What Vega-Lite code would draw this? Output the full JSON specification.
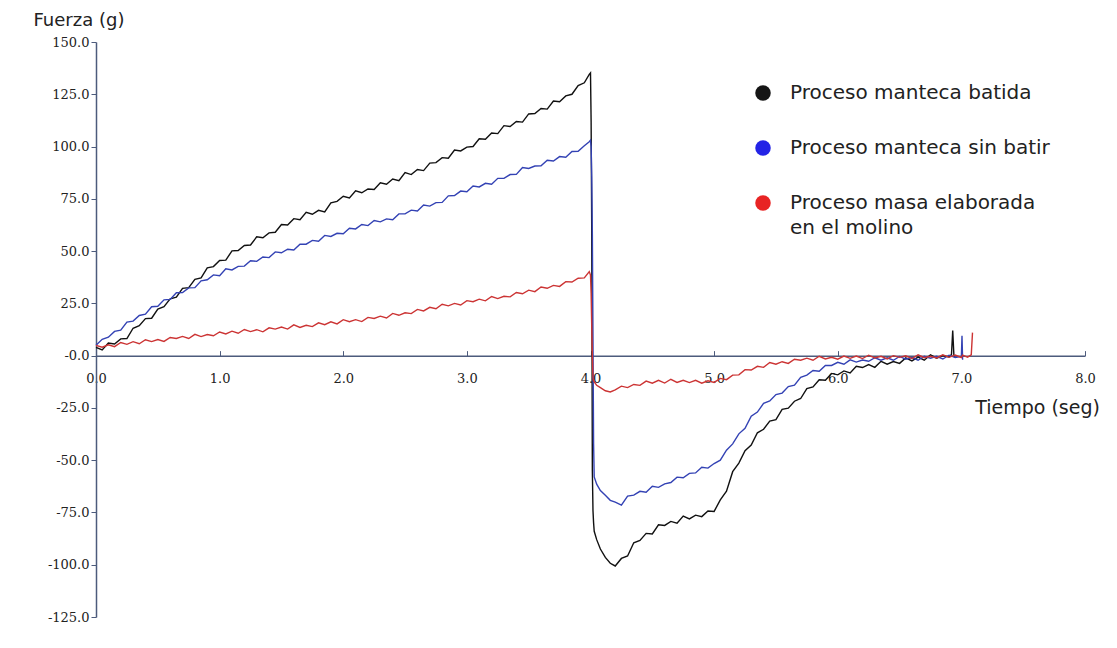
{
  "$schema": "https://vega.github.io/schema/vega-lite/v6.json",
  "width": 989,
  "height": 575,
  "autosize": "none",
  "padding": {"left": 96, "top": 42, "right": 32, "bottom": 31},
  "background": "white",
  "config": {"view": {"stroke": null}},
  "data": {
    "values": [
      {"t": 0.00, "batida": 4.0, "sin_batir": 5.0, "molino": 4.9},
      {"t": 0.05, "batida": 2.7, "sin_batir": 7.8, "molino": 4.0},
      {"t": 0.10, "batida": 6.0, "sin_batir": 8.8, "molino": 5.2},
      {"t": 0.15, "batida": 5.6, "sin_batir": 11.6, "molino": 4.3},
      {"t": 0.20, "batida": 8.0, "sin_batir": 12.2, "molino": 6.3},
      {"t": 0.25, "batida": 8.2, "sin_batir": 16.0, "molino": 5.4},
      {"t": 0.30, "batida": 13.1, "sin_batir": 16.5, "molino": 6.7},
      {"t": 0.35, "batida": 14.3, "sin_batir": 19.2, "molino": 5.7},
      {"t": 0.40, "batida": 17.7, "sin_batir": 19.8, "molino": 7.6},
      {"t": 0.45, "batida": 17.9, "sin_batir": 23.4, "molino": 6.7},
      {"t": 0.50, "batida": 22.3, "sin_batir": 23.6, "molino": 7.7},
      {"t": 0.55, "batida": 23.4, "sin_batir": 26.7, "molino": 6.8},
      {"t": 0.60, "batida": 27.2, "sin_batir": 26.9, "molino": 8.7},
      {"t": 0.65, "batida": 28.0, "sin_batir": 30.1, "molino": 8.2},
      {"t": 0.70, "batida": 32.2, "sin_batir": 30.2, "molino": 9.2},
      {"t": 0.75, "batida": 32.5, "sin_batir": 32.4, "molino": 8.2},
      {"t": 0.80, "batida": 36.5, "sin_batir": 32.5, "molino": 10.2},
      {"t": 0.85, "batida": 37.2, "sin_batir": 35.8, "molino": 9.1},
      {"t": 0.90, "batida": 42.0, "sin_batir": 36.3, "molino": 10.1},
      {"t": 0.95, "batida": 42.6, "sin_batir": 38.6, "molino": 9.5},
      {"t": 1.00, "batida": 45.5, "sin_batir": 38.2, "molino": 11.3},
      {"t": 1.05, "batida": 45.7, "sin_batir": 41.5, "molino": 10.4},
      {"t": 1.10, "batida": 50.1, "sin_batir": 41.0, "molino": 11.7},
      {"t": 1.15, "batida": 50.3, "sin_batir": 42.7, "molino": 10.7},
      {"t": 1.20, "batida": 52.7, "sin_batir": 42.8, "molino": 12.5},
      {"t": 1.25, "batida": 52.9, "sin_batir": 45.4, "molino": 11.5},
      {"t": 1.30, "batida": 56.8, "sin_batir": 45.1, "molino": 12.4},
      {"t": 1.35, "batida": 56.4, "sin_batir": 47.2, "molino": 11.4},
      {"t": 1.40, "batida": 58.7, "sin_batir": 46.9, "molino": 13.3},
      {"t": 1.45, "batida": 59.0, "sin_batir": 49.6, "molino": 12.7},
      {"t": 1.50, "batida": 62.7, "sin_batir": 49.2, "molino": 13.7},
      {"t": 1.55, "batida": 62.5, "sin_batir": 50.9, "molino": 12.7},
      {"t": 1.60, "batida": 65.5, "sin_batir": 50.5, "molino": 14.7},
      {"t": 1.65, "batida": 65.0, "sin_batir": 53.3, "molino": 13.5},
      {"t": 1.70, "batida": 68.5, "sin_batir": 53.3, "molino": 14.5},
      {"t": 1.75, "batida": 67.6, "sin_batir": 55.1, "molino": 13.9},
      {"t": 1.80, "batida": 69.5, "sin_batir": 54.7, "molino": 15.7},
      {"t": 1.85, "batida": 68.7, "sin_batir": 57.5, "molino": 14.8},
      {"t": 1.90, "batida": 73.1, "sin_batir": 57.0, "molino": 16.2},
      {"t": 1.95, "batida": 73.8, "sin_batir": 58.5, "molino": 15.2},
      {"t": 2.00, "batida": 76.2, "sin_batir": 58.3, "molino": 17.2},
      {"t": 2.05, "batida": 75.4, "sin_batir": 60.9, "molino": 16.2},
      {"t": 2.10, "batida": 78.8, "sin_batir": 60.6, "molino": 17.2},
      {"t": 2.15, "batida": 77.9, "sin_batir": 62.7, "molino": 16.3},
      {"t": 2.20, "batida": 79.7, "sin_batir": 62.2, "molino": 18.3},
      {"t": 2.25, "batida": 79.5, "sin_batir": 64.6, "molino": 17.8},
      {"t": 2.30, "batida": 82.7, "sin_batir": 64.0, "molino": 18.9},
      {"t": 2.35, "batida": 82.0, "sin_batir": 65.4, "molino": 18.0},
      {"t": 2.40, "batida": 84.5, "sin_batir": 65.0, "molino": 20.2},
      {"t": 2.45, "batida": 83.7, "sin_batir": 67.8, "molino": 19.3},
      {"t": 2.50, "batida": 87.5, "sin_batir": 67.8, "molino": 20.5},
      {"t": 2.55, "batida": 86.6, "sin_batir": 69.6, "molino": 20.1},
      {"t": 2.60, "batida": 89.0, "sin_batir": 69.2, "molino": 22.1},
      {"t": 2.65, "batida": 88.5, "sin_batir": 72.0, "molino": 21.4},
      {"t": 2.70, "batida": 92.1, "sin_batir": 71.5, "molino": 23.1},
      {"t": 2.75, "batida": 92.3, "sin_batir": 73.2, "molino": 22.4},
      {"t": 2.80, "batida": 94.7, "sin_batir": 73.3, "molino": 24.6},
      {"t": 2.85, "batida": 94.4, "sin_batir": 76.4, "molino": 23.8},
      {"t": 2.90, "batida": 98.3, "sin_batir": 76.6, "molino": 25.0},
      {"t": 2.95, "batida": 97.9, "sin_batir": 78.7, "molino": 24.2},
      {"t": 3.00, "batida": 99.7, "sin_batir": 78.4, "molino": 26.3},
      {"t": 3.05, "batida": 100.0, "sin_batir": 81.1, "molino": 25.8},
      {"t": 3.10, "batida": 103.7, "sin_batir": 80.7, "molino": 27.0},
      {"t": 3.15, "batida": 103.5, "sin_batir": 82.4, "molino": 26.2},
      {"t": 3.20, "batida": 106.5, "sin_batir": 82.0, "molino": 28.3},
      {"t": 3.25, "batida": 106.2, "sin_batir": 84.8, "molino": 27.3},
      {"t": 3.30, "batida": 110.0, "sin_batir": 84.8, "molino": 28.4},
      {"t": 3.35, "batida": 109.6, "sin_batir": 86.6, "molino": 28.1},
      {"t": 3.40, "batida": 112.0, "sin_batir": 86.7, "molino": 30.2},
      {"t": 3.45, "batida": 111.7, "sin_batir": 90.0, "molino": 29.6},
      {"t": 3.50, "batida": 115.6, "sin_batir": 89.5, "molino": 31.3},
      {"t": 3.55, "batida": 115.8, "sin_batir": 90.7, "molino": 30.6},
      {"t": 3.60, "batida": 118.2, "sin_batir": 90.8, "molino": 32.8},
      {"t": 3.65, "batida": 117.9, "sin_batir": 93.4, "molino": 32.2},
      {"t": 3.70, "batida": 121.8, "sin_batir": 93.1, "molino": 33.6},
      {"t": 3.75, "batida": 121.4, "sin_batir": 95.2, "molino": 33.1},
      {"t": 3.80, "batida": 124.2, "sin_batir": 94.9, "molino": 35.4},
      {"t": 3.85, "batida": 125.0, "sin_batir": 97.6, "molino": 35.2},
      {"t": 3.90, "batida": 129.2, "sin_batir": 97.7, "molino": 37.0},
      {"t": 3.95, "batida": 130.5, "sin_batir": 100.4, "molino": 37.2},
      {"t": 3.99, "batida": 134.5, "sin_batir": 102.3, "molino": 40.2},
      {"t": 4.000, "batida": 135.2, "sin_batir": 103.0, "molino": 38.5},
      {"t": 4.005, "batida": 112.0, "sin_batir": 100.0, "molino": 30.0},
      {"t": 4.010, "batida": 60.0, "sin_batir": 86.0, "molino": 14.0},
      {"t": 4.015, "batida": -55.0, "sin_batir": 58.0, "molino": 0.0},
      {"t": 4.020, "batida": -74.0, "sin_batir": 8.0, "molino": -10.5},
      {"t": 4.025, "batida": -80.0, "sin_batir": -42.0, "molino": -12.0},
      {"t": 4.030, "batida": -84.0, "sin_batir": -58.0, "molino": -12.5},
      {"t": 4.05, "batida": -88.0, "sin_batir": -61.5, "molino": -14.2},
      {"t": 4.08, "batida": -92.5, "sin_batir": -64.5, "molino": -15.3},
      {"t": 4.12, "batida": -96.5, "sin_batir": -66.8, "molino": -16.8},
      {"t": 4.16, "batida": -99.3, "sin_batir": -69.2, "molino": -17.4},
      {"t": 4.20, "batida": -100.6, "sin_batir": -70.1, "molino": -16.4},
      {"t": 4.25, "batida": -97.0, "sin_batir": -71.5, "molino": -14.6},
      {"t": 4.30, "batida": -95.8, "sin_batir": -67.2, "molino": -15.3},
      {"t": 4.35, "batida": -89.5, "sin_batir": -66.7, "molino": -13.8},
      {"t": 4.40, "batida": -88.4, "sin_batir": -64.9, "molino": -14.2},
      {"t": 4.45, "batida": -85.0, "sin_batir": -65.3, "molino": -12.2},
      {"t": 4.50, "batida": -85.3, "sin_batir": -62.5, "molino": -13.2},
      {"t": 4.55, "batida": -80.9, "sin_batir": -63.0, "molino": -11.8},
      {"t": 4.60, "batida": -81.2, "sin_batir": -61.3, "molino": -13.1},
      {"t": 4.65, "batida": -79.3, "sin_batir": -60.7, "molino": -11.3},
      {"t": 4.70, "batida": -80.1, "sin_batir": -58.1, "molino": -12.8},
      {"t": 4.75, "batida": -76.7, "sin_batir": -58.4, "molino": -11.8},
      {"t": 4.80, "batida": -78.1, "sin_batir": -56.3, "molino": -12.9},
      {"t": 4.85, "batida": -76.3, "sin_batir": -56.1, "molino": -11.8},
      {"t": 4.90, "batida": -77.0, "sin_batir": -53.4, "molino": -13.2},
      {"t": 4.95, "batida": -74.3, "sin_batir": -53.8, "molino": -12.0},
      {"t": 5.00, "batida": -74.5, "sin_batir": -51.6, "molino": -12.8},
      {"t": 5.05, "batida": -69.0, "sin_batir": -50.0, "molino": -10.9},
      {"t": 5.10, "batida": -64.8, "sin_batir": -45.2, "molino": -11.5},
      {"t": 5.15, "batida": -55.5, "sin_batir": -42.2, "molino": -9.3},
      {"t": 5.20, "batida": -51.4, "sin_batir": -37.4, "molino": -9.2},
      {"t": 5.25, "batida": -45.5, "sin_batir": -34.8, "molino": -6.7},
      {"t": 5.30, "batida": -42.8, "sin_batir": -29.0, "molino": -6.9},
      {"t": 5.35, "batida": -36.9, "sin_batir": -27.0, "molino": -5.1},
      {"t": 5.40, "batida": -35.2, "sin_batir": -22.8, "molino": -5.6},
      {"t": 5.45, "batida": -31.3, "sin_batir": -21.7, "molino": -3.3},
      {"t": 5.50, "batida": -30.6, "sin_batir": -18.6, "molino": -4.1},
      {"t": 5.55, "batida": -25.7, "sin_batir": -17.9, "molino": -2.9},
      {"t": 5.60, "batida": -25.1, "sin_batir": -14.8, "molino": -3.7},
      {"t": 5.65, "batida": -21.8, "sin_batir": -14.1, "molino": -1.7},
      {"t": 5.70, "batida": -20.5, "sin_batir": -10.4, "molino": -2.2},
      {"t": 5.75, "batida": -15.8, "sin_batir": -9.3, "molino": -1.2},
      {"t": 5.80, "batida": -15.0, "sin_batir": -7.1, "molino": -2.2},
      {"t": 5.85, "batida": -11.5, "sin_batir": -7.5, "molino": -0.3},
      {"t": 5.90, "batida": -11.8, "sin_batir": -4.7, "molino": -1.6},
      {"t": 5.95, "batida": -8.5, "sin_batir": -4.7, "molino": -0.8},
      {"t": 6.00, "batida": -9.2, "sin_batir": -3.2, "molino": -1.7},
      {"t": 6.05, "batida": -7.3, "sin_batir": -4.1, "molino": -0.2},
      {"t": 6.10, "batida": -8.3, "sin_batir": -2.0, "molino": -1.3},
      {"t": 6.15, "batida": -5.1, "sin_batir": -3.1, "molino": -0.2},
      {"t": 6.20, "batida": -5.7, "sin_batir": -2.1, "molino": -1.4},
      {"t": 6.25, "batida": -4.3, "sin_batir": -2.7, "molino": 0.2},
      {"t": 6.30, "batida": -5.6, "sin_batir": -1.0, "molino": -1.1},
      {"t": 6.35, "batida": -2.7, "sin_batir": -2.2, "molino": -0.3},
      {"t": 6.40, "batida": -4.1, "sin_batir": -1.0, "molino": -1.6},
      {"t": 6.45, "batida": -2.8, "sin_batir": -2.2, "molino": 0.0},
      {"t": 6.50, "batida": -3.7, "sin_batir": -0.4, "molino": -0.8},
      {"t": 6.55, "batida": -1.1, "sin_batir": -1.7, "molino": -0.1},
      {"t": 6.60, "batida": -2.5, "sin_batir": -0.9, "molino": -1.4},
      {"t": 6.65, "batida": -0.7, "sin_batir": -2.2, "molino": 0.4},
      {"t": 6.70, "batida": -2.2, "sin_batir": -0.3, "molino": -1.0},
      {"t": 6.75, "batida": 0.4, "sin_batir": -1.2, "molino": -0.3},
      {"t": 6.80, "batida": -1.2, "sin_batir": -0.3, "molino": -1.1},
      {"t": 6.85, "batida": 0.0, "sin_batir": -1.6, "molino": 0.4},
      {"t": 6.90, "batida": -0.6, "sin_batir": 0.2, "molino": -0.8},
      {"t": 6.92, "batida": 0.6, "sin_batir": null, "molino": null},
      {"t": 6.93, "batida": 12.0, "sin_batir": null, "molino": null},
      {"t": 6.94, "batida": -0.5, "sin_batir": null, "molino": null},
      {"t": 6.95, "batida": null, "sin_batir": -0.9, "molino": 0.3},
      {"t": 7.00, "batida": null, "sin_batir": -0.4, "molino": -0.9},
      {"t": 7.005, "batida": null, "sin_batir": 9.5, "molino": null},
      {"t": 7.01, "batida": null, "sin_batir": -2.0, "molino": 0.2},
      {"t": 7.05, "batida": null, "sin_batir": null, "molino": -0.7},
      {"t": 7.08, "batida": null, "sin_batir": null, "molino": 0.4},
      {"t": 7.09, "batida": null, "sin_batir": null, "molino": 11.0}
    ]
  },
  "transform": [
    {"fold": ["batida", "sin_batir", "molino"], "as": ["proceso", "fuerza"]},
    {"filter": "isValid(datum.fuerza)"}
  ],
  "mark": {"type": "line", "strokeWidth": 1.4},
  "encoding": {
    "x": {
      "field": "t",
      "type": "quantitative",
      "scale": {"domain": [0, 8], "nice": false, "zero": false},
      "axis": {
        "values": [0, 1, 2, 3, 4, 5, 6, 7, 8],
        "format": ".1f",
        "offset": -261.36,
        "grid": false,
        "tickSize": -5,
        "labelPadding": 22,
        "labelFlush": false,
        "domainColor": "#4d5b7c",
        "domainWidth": 1.5,
        "tickColor": "#4d5b7c",
        "labelFont": "DejaVu Serif",
        "labelFontSize": 13,
        "labelColor": "#222222",
        "title": "Tiempo (seg)",
        "titleFont": "DejaVu Sans",
        "titleFontSize": 19,
        "titleFontWeight": "normal",
        "titleColor": "#222222",
        "titleAlign": "center",
        "titleBaseline": "middle",
        "titleX": 941,
        "titleY": 52
      }
    },
    "y": {
      "field": "fuerza",
      "type": "quantitative",
      "scale": {"domain": [-125, 150], "nice": false, "zero": false},
      "axis": {
        "values": [-125, -100, -75, -50, -25, 0, 25, 50, 75, 100, 125, 150],
        "labelExpr": "(datum.value <= 0 ? '-' : '') + format(abs(datum.value), '.1f')",
        "grid": false,
        "tickSize": 5,
        "labelPadding": 2,
        "labelFlush": false,
        "domainColor": "#4d5b7c",
        "domainWidth": 1.5,
        "tickColor": "#4d5b7c",
        "labelFont": "DejaVu Serif",
        "labelFontSize": 13,
        "labelColor": "#222222",
        "title": "Fuerza (g)",
        "titleFont": "DejaVu Sans",
        "titleFontSize": 18,
        "titleFontWeight": "normal",
        "titleColor": "#222222",
        "titleAngle": 0,
        "titleAlign": "left",
        "titleBaseline": "middle",
        "titleX": -63,
        "titleY": -22
      }
    },
    "color": {
      "field": "proceso",
      "type": "nominal",
      "scale": {
        "domain": ["batida", "sin_batir", "molino"],
        "range": ["#111111", "#3342b4", "#cc3434"]
      },
      "legend": {
        "orient": "none",
        "legendX": 657,
        "legendY": 41,
        "title": null,
        "symbolType": "circle",
        "symbolSize": 240,
        "symbolStrokeWidth": 0,
        "labelFont": "DejaVu Sans",
        "labelFontSize": 20,
        "labelColor": "#222222",
        "labelOffset": 17,
        "labelLimit": 400,
        "rowPadding": 35,
        "labelExpr": "datum.value == 'batida' ? 'Proceso manteca batida' : datum.value == 'sin_batir' ? 'Proceso manteca sin batir' : ['Proceso masa elaborada', 'en el molino']",
        "encode": {
          "symbols": {
            "update": {
              "fill": {"signal": "datum.value == 'batida' ? '#151515' : datum.value == 'sin_batir' ? '#2323e6' : '#e82424'"},
              "stroke": {"value": "transparent"},
              "opacity": {"value": 1}
            }
          },
          "labels": {
            "update": {
              "lineHeight": {"value": 25}
            }
          }
        }
      }
    }
  }
}
